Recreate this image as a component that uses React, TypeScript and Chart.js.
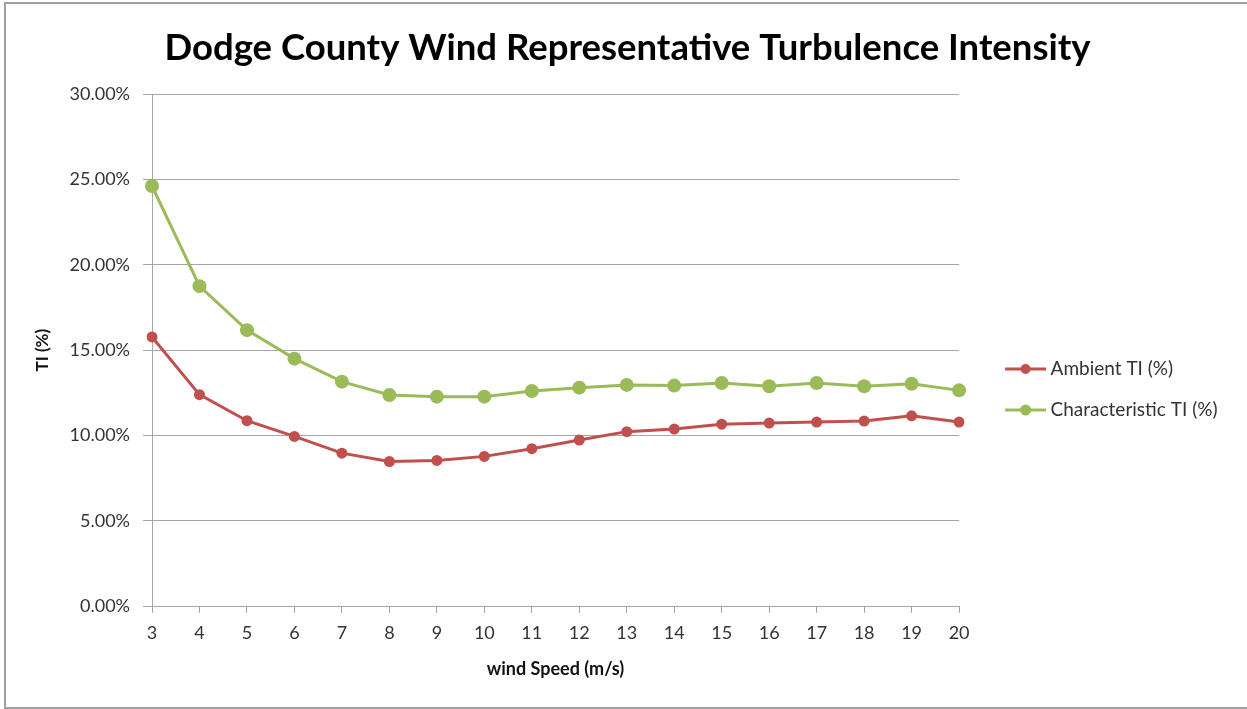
import React, { useEffect, useRef } from "react";
import { Chart, registerables } from "chart.js";

Chart.register(...registerables);

const chartTitle = "Dodge County Wind Representative Turbulence Intensity";
const xTitle = "wind Speed (m/s)";
const yTitle = "TI (%)";
const windSpeeds = ["3", "4", "5", "6", "7", "8", "9", "10", "11", "12", "13", "14", "15", "16", "17", "18", "19", "20"];
const ambientTI = [15.77, 12.39, 10.86, 9.94, 8.96, 8.47, 8.53, 8.77, 9.22, 9.73, 10.22, 10.37, 10.66, 10.72, 10.78, 10.84, 11.15, 10.78];
const characteristicTI = [24.62, 18.75, 16.17, 14.5, 13.15, 12.37, 12.27, 12.27, 12.6, 12.8, 12.96, 12.92, 13.07, 12.88, 13.07, 12.88, 13.03, 12.64];
const seriesNames = ["Ambient TI (%)", "Characteristic TI (%)"];
const seriesColors = ["#C0504D", "#9BBB59"];
const markerRadii = [5.5, 7];

const FONT = "Lato, 'Open Sans', sans-serif";
const GRID = "#a6a6a6";

function legendImage(color: string, r: number) {
  const c = document.createElement("canvas");
  c.width = 70;
  c.height = 16;
  const ctx = c.getContext("2d")!;
  ctx.strokeStyle = color;
  ctx.lineWidth = 3;
  ctx.beginPath();
  ctx.moveTo(29, 8);
  ctx.lineTo(70, 8);
  ctx.stroke();
  ctx.fillStyle = color;
  ctx.beginPath();
  ctx.arc(49.5, 8, r, 0, Math.PI * 2);
  ctx.fill();
  return c;
}

export default function App() {
  const ref = useRef<HTMLCanvasElement>(null);
  useEffect(() => {
    const imgs = [legendImage(seriesColors[0], 5), legendImage(seriesColors[1], 5.5)];
    const chart = new Chart(ref.current!, {
      type: "line",
      data: {
        labels: windSpeeds,
        datasets: [
          {
            label: seriesNames[0],
            data: ambientTI,
            borderColor: seriesColors[0],
            backgroundColor: seriesColors[0],
            borderWidth: 3,
            pointRadius: markerRadii[0],
            pointBorderWidth: 0,
            tension: 0,
          },
          {
            label: seriesNames[1],
            data: characteristicTI,
            borderColor: seriesColors[1],
            backgroundColor: seriesColors[1],
            borderWidth: 3,
            pointRadius: markerRadii[1],
            pointBorderWidth: 0,
            tension: 0,
          },
        ],
      },
      options: {
        responsive: false,
        animation: false,
        layout: { padding: { left: 27.5, right: 19.5, top: 4, bottom: 0 } },
        plugins: {
          title: {
            display: true,
            text: chartTitle,
            color: "#000",
            font: { family: FONT, size: 36.5, weight: "bold" },
            padding: { top: 22, bottom: 24.4 },
          },
          legend: {
            position: "right",
            title: {
              display: true,
              text: "",
              font: { family: FONT, size: 10 },
              padding: { top: 54, bottom: 0 },
            },
            labels: {
              usePointStyle: true,
              pointStyleWidth: 60,
              padding: 22,
              color: "#333",
              font: { family: FONT, size: 19 },
              generateLabels: (ch: any) => {
                const items = Chart.defaults.plugins.legend.labels.generateLabels(ch);
                items.forEach((it: any, i: number) => {
                  it.pointStyle = imgs[i];
                });
                return items;
              },
            },
          },
          tooltip: { enabled: false },
        },
        scales: {
          x: {
            type: "category",
            offset: false,
            afterFit: (s: any) => {
              s.height = 103;
            },
            grid: { drawOnChartArea: false, drawTicks: true, tickLength: 7, color: GRID },
            border: { display: true, color: GRID, width: 1 },
            ticks: { color: "#333", font: { family: FONT, size: 18 }, padding: 9, maxRotation: 0, autoSkip: false },
            title: {
              display: true,
              text: xTitle,
              color: "#111",
              font: { family: FONT, size: 18, weight: "bold" },
              padding: { top: 0, bottom: 29 },
            },
          },
          y: {
            min: 0,
            max: 30,
            afterFit: (s: any) => {
              s.width = 124.5;
            },
            grid: { color: GRID, tickLength: 9, lineWidth: 1 },
            border: { display: true, color: GRID, width: 1 },
            ticks: {
              stepSize: 5,
              color: "#333",
              font: { family: FONT, size: 18 },
              padding: 13,
              callback: (v: any) => Number(v).toFixed(2) + "%",
            },
            title: {
              display: true,
              text: yTitle,
              color: "#111",
              font: { family: FONT, size: 17, weight: "bold" },
              padding: { top: 5.3, bottom: 0 },
            },
          },
        },
      } as any,
    });
    return () => chart.destroy();
  }, []);

  return (
    <div style={{ position: "fixed", left: 0, top: 0, width: 1247, height: 709, overflow: "hidden", background: "#fff" }}>
      <div
        style={{
          position: "absolute",
          left: 4,
          top: 2,
          width: 1300,
          height: 703,
          borderLeft: "2px solid #a0a0a0",
          borderTop: "2px solid #a0a0a0",
          borderBottom: "2px solid #a0a0a0",
        }}
      />
      <canvas ref={ref} width={1247} height={709} style={{ position: "absolute", left: 0, top: 0, width: 1247, height: 709 }} />
    </div>
  );
}
